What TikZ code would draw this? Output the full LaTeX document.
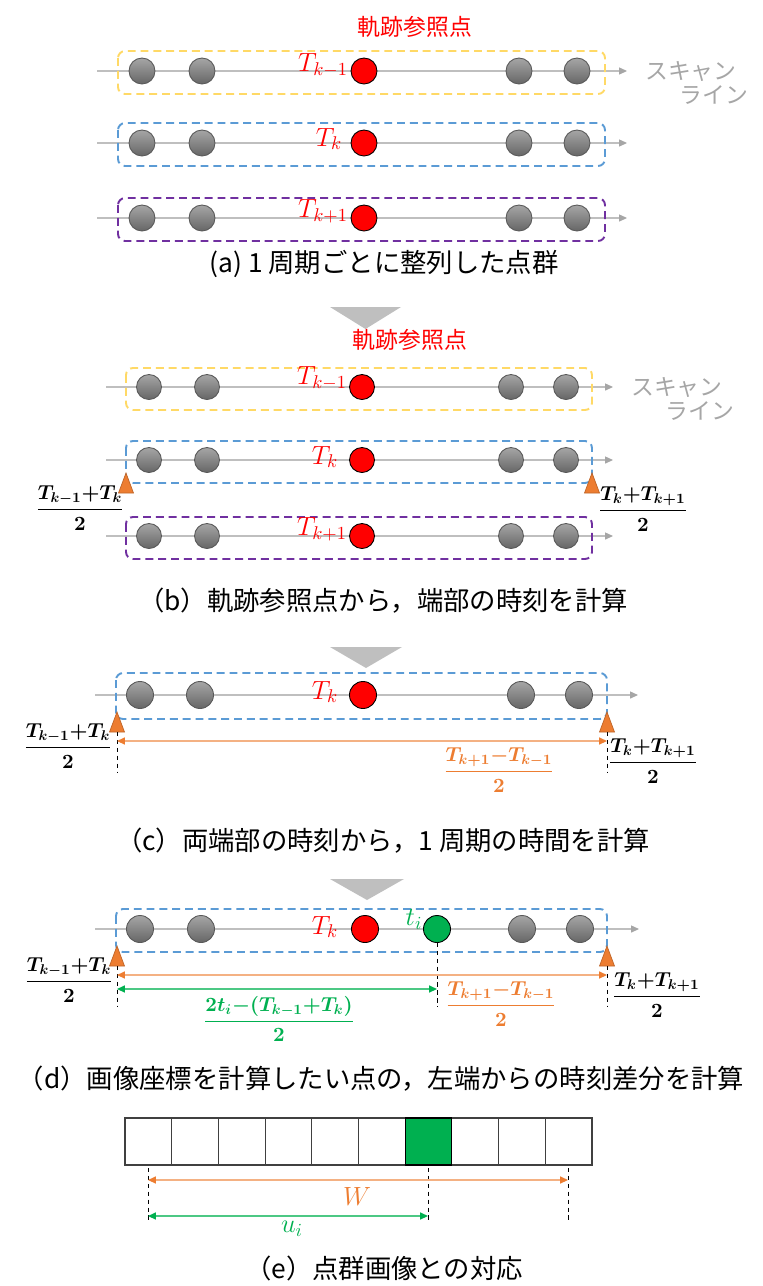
\documentclass[tikz,border=0pt]{standalone}
\usepackage{fix-cm}
\usepackage{amsmath}
\usepackage{fontspec}
\usepackage{xcolor}
\usetikzlibrary{arrows.meta,positioning}
\newfontfamily\jpfont{Noto Sans CJK JP}
\definecolor{refred}{RGB}{255,0,0}
\definecolor{ptgreen}{RGB}{0,176,80}
\definecolor{boxyellow}{RGB}{255,217,102}
\definecolor{boxblue}{RGB}{91,155,213}
\definecolor{boxpurple}{RGB}{112,48,160}
\definecolor{markorange}{RGB}{237,125,49}
\definecolor{spanorange}{RGB}{244,177,131}
\definecolor{scangray}{RGB}{191,191,191}
\definecolor{labelgray}{RGB}{166,166,166}

\begin{document}
\begin{tikzpicture}[x=0.02cm, y=-0.02cm,
    dotbase/.style={circle, inner sep=0pt, minimum size=0.52cm, line width=0.5pt},
    pt/.style={dotbase, draw=black!65, top color=black!35, bottom color=black!60},
    refpt/.style={dotbase, draw=black, fill=refred},
    newpt/.style={dotbase, draw=black, fill=ptgreen},
    scanline/.style={draw=scangray, line width=0.6pt, ->, >={Triangle[length=4.5pt, width=4pt, color=labelgray]}},
    rowbox/.style={draw=#1, dash pattern=on 4.5pt off 2.8pt, line width=1.1pt, rounded corners=4pt},
    reftext/.style={text=refred, font=\jpfont\fontsize{13}{15}\selectfont},
    refsym/.style={text=refred, font=\fontsize{15}{17}\selectfont, inner sep=1pt},
    scantext/.style={text=labelgray, font=\jpfont\fontsize{13}{13.5}\selectfont, align=left, anchor=west},
    caption/.style={font=\jpfont\fontsize{15}{18}\selectfont},
    stepmark/.style={fill=black!25},
    edgemark/.style={fill=markorange, draw=markorange!80!black, line width=0.4pt},
    guide/.style={draw=black, dash pattern=on 2.5pt off 2pt, line width=0.5pt},
    spanarrow/.style={draw=spanorange, line width=0.8pt, <->, >={Triangle[length=4.5pt, width=4pt, color=markorange]}},
    partarrow/.style={draw=ptgreen!70, line width=0.8pt, <->, >={Triangle[length=4.5pt, width=4pt, color=ptgreen]}},
    fracnode/.style={font=\fontsize{11.5}{13}\selectfont\boldmath, inner sep=1pt},
    cell/.style={draw=black!75, line width=0.6pt, minimum width=0.934cm, minimum height=0.94cm, inner sep=0pt}
]
    \useasboundingbox (0,0) rectangle (762,1286);

    % (a) Rows of points, one per period
    \node[reftext] (arefname) at (415,27) {軌跡参照点};
    \foreach \r/\y/\c in {1/71/boxyellow, 2/143/boxblue, 3/218/boxpurple} {
        \coordinate (a\r-s) at (97,\y);
        \coordinate (a\r-e) at (627,\y);
        \draw[scanline] (a\r-s) -- (a\r-e);
        \draw[rowbox=\c] (118,\y-20) rectangle (605,\y+23);
        \foreach \x [count=\n] in {142,202,519,577}
            \node[pt] (a\r-p\n) at (\x,\y) {};
        \node[refpt] (a\r-ref) at (364,\y) {};
    }
    \node[refsym, anchor=east] (aT1) at (350,65) {$T_{k-1}$};
    \node[refsym] (aT2) at (329,139) {$T_k$};
    \node[refsym, anchor=east] (aT3) at (350,211) {$T_{k+1}$};
    \node[scantext] (ascan) at (639,83) {スキャン\\\hspace*{1.5em}ライン};
    \node[caption] (acap) at (384,264) {(a) 1 周期ごとに整列した点群};

    \fill[stepmark] (330,307) -- (401,307) -- (365.5,329) -- cycle;

    % (b) Ends of one period
    \node[reftext] (brefname) at (410,340) {軌跡参照点};
    \foreach \r/\y/\c in {1/387/boxyellow, 2/460/boxblue, 3/536/boxpurple} {
        \coordinate (b\r-s) at (106,\y);
        \coordinate (b\r-e) at (613,\y);
        \draw[scanline] (b\r-s) -- (b\r-e);
        \draw[rowbox=\c] (126,\y-19) rectangle (592,\y+23);
        \foreach \x [count=\n] in {149,207,511,566}
            \node[pt, minimum size=0.5cm] (b\r-p\n) at (\x,\y) {};
        \node[refpt, minimum size=0.5cm] (b\r-ref) at (362,\y) {};
    }
    \node[refsym, anchor=east] (bT1) at (349,378) {$T_{k-1}$};
    \node[refsym] (bT2) at (325,457) {$T_k$};
    \node[refsym, anchor=east] (bT3) at (349,529) {$T_{k+1}$};
    \node[scantext] (bscan) at (625,399) {スキャン\\\hspace*{1.5em}ライン};
    \foreach \x in {126,592}
        \filldraw[edgemark] (\x,473) -- (\x+7.5,493) -- (\x-7.5,493) -- cycle;
    \node[fracnode] (bleft) at (80,508) {$\dfrac{T_{k-1}{+}T_k}{2}$};
    \node[fracnode] (bright) at (643,509) {$\dfrac{T_k{+}T_{k+1}}{2}$};
    \node[caption] (bcap) at (383,601) {（b）軌跡参照点から，端部の時刻を計算};

    \fill[stepmark] (330,647) -- (402,647) -- (366,668) -- cycle;

    % (c) Length of one period
    \coordinate (c-s) at (95,695);
    \coordinate (c-e) at (638,695);
    \draw[scanline] (c-s) -- (c-e);
    \draw[rowbox=boxblue] (116,673) rectangle (607,719);
    \foreach \x [count=\n] in {140,200,521,579}
        \node[pt, minimum size=0.54cm] (c-p\n) at (\x,695) {};
    \node[refpt, minimum size=0.54cm] (c-ref) at (363,695) {};
    \node[refsym] (cT) at (325,692) {$T_k$};
    \foreach \x in {117,607}
        \filldraw[edgemark] (\x,712) -- (\x+7.5,732) -- (\x-7.5,732) -- cycle;
    \coordinate (cl-top) at (117,732);
    \coordinate (cl-bot) at (117,773);
    \coordinate (cr-top) at (607,732);
    \coordinate (cr-bot) at (607,773);
    \draw[guide] (cl-top) -- (cl-bot);
    \draw[guide] (cr-top) -- (cr-bot);
    \coordinate (cspan-l) at (117,741);
    \coordinate (cspan-r) at (607,741);
    \draw[spanarrow] (cspan-l) -- (cspan-r);
    \node[fracnode] (cleft) at (68,746) {$\dfrac{T_{k-1}{+}T_k}{2}$};
    \node[fracnode] (cright) at (653,761) {$\dfrac{T_k{+}T_{k+1}}{2}$};
    \node[fracnode, text=markorange] (cspan) at (499,770) {$\dfrac{T_{k+1}{-}T_{k-1}}{2}$};
    \node[caption] (ccap) at (383,841) {（c）両端部の時刻から，1 周期の時間を計算};

    \fill[stepmark] (330,879) -- (404,879) -- (367,900) -- cycle;

    % (d) Time offset of one point from the left end
    \coordinate (d-s) at (95,929);
    \coordinate (d-e) at (639,929);
    \draw[scanline] (d-s) -- (d-e);
    \draw[rowbox=boxblue] (116,909) rectangle (607,952);
    \foreach \x [count=\n] in {140,201,522,580}
        \node[pt, minimum size=0.54cm] (d-p\n) at (\x,929) {};
    \node[refpt, minimum size=0.54cm] (d-ref) at (365,929) {};
    \node[newpt, minimum size=0.54cm] (d-ti) at (437,929) {};
    \node[refsym] (dT) at (325,927) {$T_k$};
    \node[refsym, text=ptgreen] (dt) at (414,919) {$t_i$};
    \foreach \x in {117,607}
        \filldraw[edgemark] (\x,946) -- (\x+7.5,966) -- (\x-7.5,966) -- cycle;
    \coordinate (dl-top) at (117,966);
    \coordinate (dl-bot) at (117,1007);
    \coordinate (dr-top) at (607,966);
    \coordinate (dr-bot) at (607,1007);
    \coordinate (dti-bot) at (437,1007);
    \draw[guide] (dl-top) -- (dl-bot);
    \draw[guide] (dr-top) -- (dr-bot);
    \draw[guide] (d-ti.south) -- (dti-bot);
    \coordinate (dspan-l) at (117,975);
    \coordinate (dspan-r) at (607,975);
    \coordinate (dpart-l) at (117,989);
    \coordinate (dpart-r) at (437,989);
    \draw[spanarrow] (dspan-l) -- (dspan-r);
    \draw[partarrow] (dpart-l) -- (dpart-r);
    \node[fracnode] (dleft) at (69,980) {$\dfrac{T_{k-1}{+}T_k}{2}$};
    \node[fracnode] (dright) at (657,995) {$\dfrac{T_k{+}T_{k+1}}{2}$};
    \node[fracnode, text=markorange] (dspan) at (501,1004) {$\dfrac{T_{k+1}{-}T_{k-1}}{2}$};
    \node[fracnode, text=ptgreen] (dpart) at (279,1019) {$\dfrac{2t_i{-}(T_{k-1}{+}T_k)}{2}$};
    \node[caption] (dcap) at (381,1079) {（d）画像座標を計算したい点の，左端からの時刻差分を計算};

    % (e) Pixel row of the point cloud image
    \foreach \i in {0,...,9}
        \node[cell] (e\i) at (148.35+46.7*\i,1141.5) {};
    \node[cell, fill=ptgreen, draw=black] (e6) at (428.55,1141.5) {};
    \coordinate (el-top) at (148,1168);
    \coordinate (el-bot) at (148,1223);
    \coordinate (em-top) at (428,1168);
    \coordinate (em-bot) at (428,1223);
    \coordinate (er-top) at (568,1168);
    \coordinate (er-bot) at (568,1223);
    \draw[guide] (el-top) -- (el-bot);
    \draw[guide] (em-top) -- (em-bot);
    \draw[guide] (er-top) -- (er-bot);
    \coordinate (ew-l) at (148,1180);
    \coordinate (ew-r) at (568,1180);
    \coordinate (eu-l) at (148,1216);
    \coordinate (eu-r) at (428,1216);
    \draw[spanarrow] (ew-l) -- (ew-r);
    \draw[partarrow] (eu-l) -- (eu-r);
    \node[refsym, text=markorange] (eW) at (357,1196) {$W$};
    \node[refsym, text=ptgreen] (eu) at (292,1229) {$u_i$};
    \node[caption] (ecap) at (384,1268) {（e）点群画像との対応};
\end{tikzpicture}
\end{document}
